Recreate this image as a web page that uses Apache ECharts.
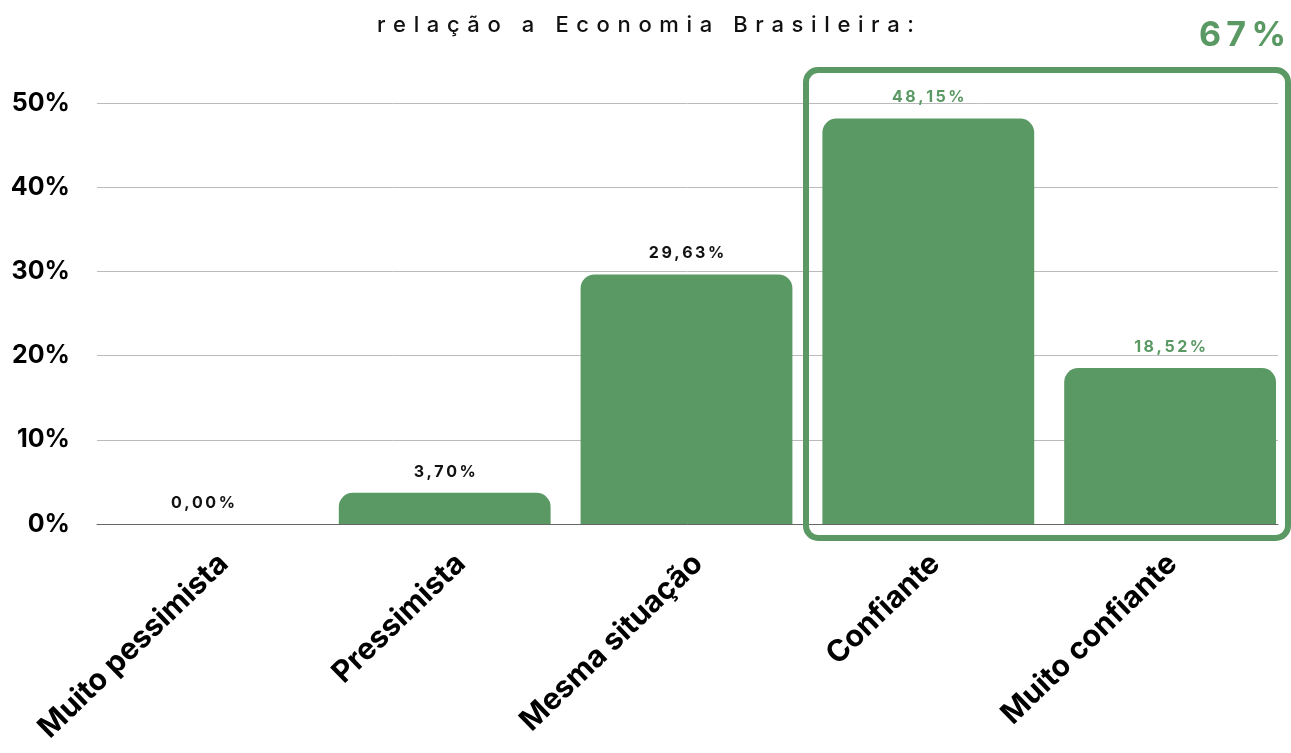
<!DOCTYPE html>
<html>
<head>
    <meta charset="utf-8" />
    <title>Economia Brasileira</title>
    <script src="https://cdn.jsdelivr.net/npm/echarts@6/dist/echarts.min.js"></script>
    <style>
        html, body { margin: 0; padding: 0; background: #fff; }
        #chart { width: 1291px; height: 753px; }
    </style>
</head>
<body>
    <div id="chart"></div>
    <script>
        // dados
        var categories = ['Muito pessimista', 'Pressimista', 'Mesma situação', 'Confiante', 'Muito confiante'];
        var values = [0, 3.70, 29.63, 48.15, 18.52];
        var highlighted = ['Confiante', 'Muito confiante'];
        var yTicks = [0, 10, 20, 30, 40, 50];
        var titleText = 'relação a Economia Brasileira:';
        var totalText = '67%';

        var green = '#5a9963';
        var font = 'Inter, "Noto Sans", sans-serif';

        // sem letterSpacing no canvas: espaço fino entre as letras
        function spaced(s, n) {
            var sep = new Array((n || 1) + 1).join('\u2009');
            return s.split('').join(sep);
        }
        function fmt(v) {
            return spaced(v.toFixed(2).replace('.', ',') + '%');
        }

        var chart = echarts.init(document.getElementById('chart'));

        var option = {
            backgroundColor: '#fff',
            animation: false,
            title: [{
                text: spaced(titleText, 2),
                left: 'center',
                top: 9,
                textStyle: { fontFamily: font, fontSize: 22, fontWeight: 500, color: '#111' }
            }, {
                text: spaced(totalText),
                right: 0,
                top: 14,
                textStyle: { fontFamily: font, fontSize: 34, fontWeight: 'bold', color: green }
            }],
            grid: [
                // barras
                { left: 82, right: -2, top: 103, bottom: 229 },
                // linhas de grade e eixo y
                { left: 97, right: 13, top: 103, bottom: 229 },
                // rótulos das categorias
                { left: 105, right: -25, top: 103, bottom: 229 }
            ],
            xAxis: [{
                type: 'category',
                gridIndex: 0,
                data: categories,
                show: false
            }, {
                type: 'category',
                gridIndex: 1,
                data: categories,
                axisLine: { show: true, lineStyle: { color: '#666', width: 1 } },
                axisTick: { show: false },
                axisLabel: { show: false }
            }, {
                type: 'category',
                gridIndex: 2,
                data: categories,
                axisLine: { show: false },
                axisTick: { show: false },
                axisLabel: {
                    rotate: 44,
                    interval: 0,
                    margin: 35,
                    fontFamily: font,
                    fontSize: 30,
                    fontWeight: 'bold',
                    color: '#000'
                }
            }],
            yAxis: [{
                type: 'value',
                gridIndex: 0,
                min: 0, max: 50, interval: 10,
                show: false
            }, {
                type: 'value',
                gridIndex: 1,
                min: yTicks[0], max: yTicks[yTicks.length - 1], interval: 10,
                axisLine: { show: false },
                axisTick: { show: false },
                splitLine: { lineStyle: { color: '#bbb', width: 1 } },
                axisLabel: {
                    margin: 27,
                    fontFamily: font,
                    fontSize: 25,
                    fontWeight: 'bold',
                    color: '#000',
                    formatter: '{value}%'
                }
            }, {
                type: 'value',
                gridIndex: 2,
                min: 0, max: 50, interval: 10,
                show: false
            }],
            series: [{
                type: 'bar',
                xAxisIndex: 0,
                yAxisIndex: 0,
                barCategoryGap: '12.4%',
                data: values.map(function (v, i) {
                    var hl = highlighted.indexOf(categories[i]) >= 0;
                    return {
                        value: v,
                        label: { color: hl ? green : '#111' }
                    };
                }),
                itemStyle: { color: green, borderRadius: [14, 14, 0, 0] },
                label: {
                    show: true,
                    position: 'top',
                    distance: 13,
                    fontFamily: font,
                    fontSize: 16,
                    fontWeight: 'bold',
                    formatter: function (p) { return fmt(p.value); }
                },
                z: 3
            }],
            graphic: [{
                type: 'rect',
                shape: { x: 806, y: 70, width: 482, height: 468, r: 12 },
                style: { fill: 'none', stroke: green, lineWidth: 6 },
                z: 10
            }]
        };

        chart.setOption(option);
    </script>
</body>
</html>
